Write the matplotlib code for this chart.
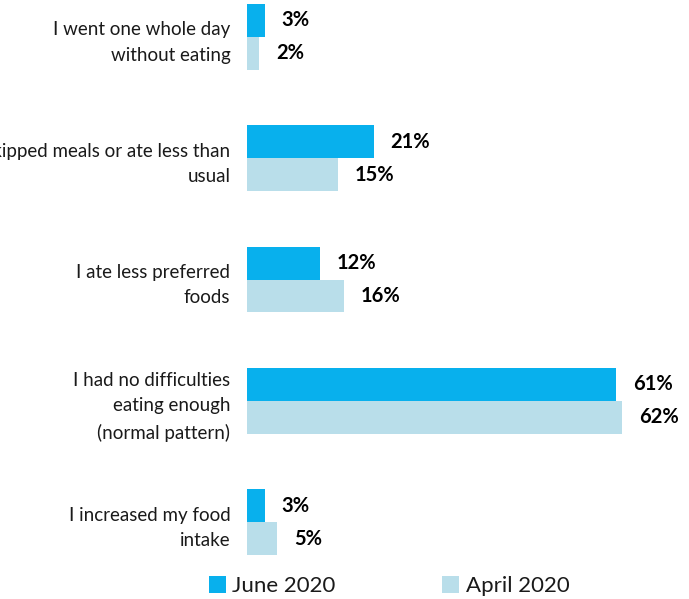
import matplotlib.pyplot as plt
import numpy as np

categories = [
    "I went one whole day\nwithout eating",
    "I skipped meals or ate less than\nusual",
    "I ate less preferred\nfoods",
    "I had no difficulties\neating enough\n(normal pattern)",
    "I increased my food\nintake",
]
june_2020 = [3, 21, 12, 61, 3]
april_2020 = [2, 15, 16, 62, 5]
series_names = ["June 2020", "April 2020"]

june_color = "#08B0ED"
april_color = "#B9DEEA"

plt.rcParams['font.family'] = ['Lato', 'DejaVu Sans']

fig = plt.figure(figsize=(6.89, 5.99), dpi=100)
ax = fig.add_axes([247 / 689, 1 - 558.4 / 599, 423.5 / 689, 557.8 / 599])

y = np.arange(len(categories))
h = 0.272
b1 = ax.barh(y - h / 2, june_2020, height=h, color=june_color, label=series_names[0])
b2 = ax.barh(y + h / 2, april_2020, height=h, color=april_color, label=series_names[1])

for bars, vals in ((b1, june_2020), (b2, april_2020)):
    for bar, v in zip(bars, vals):
        ax.annotate(f"{v}%", (v, bar.get_y() + bar.get_height() / 2),
                    xytext=(12, 0), textcoords='offset points',
                    ha='left', va='center', fontsize=14.5, fontweight='bold',
                    color='black')

ax.set_xlim(0, 70)
ax.set_ylim(4.3, -0.3)
ax.set_yticks(y)
ax.set_yticklabels(categories, fontsize=13.5, linespacing=1.6, color='#1a1a1a')
ax.tick_params(axis='y', length=0, pad=12)
ax.set_xticks([])
for s in ax.spines.values():
    s.set_visible(False)

fig.legend(handles=[b1, b2], loc='lower left', bbox_to_anchor=(189 / 689, -0.029),
           ncol=2, frameon=False, fontsize=16, handlelength=0.75, handleheight=0.75,
           handletextpad=0.3, columnspacing=4.8, labelcolor='#1a1a1a')

fig.savefig("out.png", dpi=100)
